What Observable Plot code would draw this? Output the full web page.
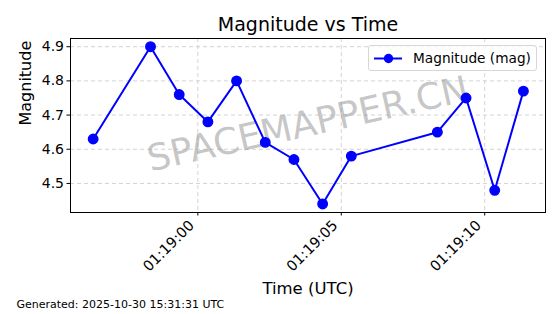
<!DOCTYPE html>
<html><head><meta charset="utf-8">
<script src="https://cdn.jsdelivr.net/npm/d3@7"></script>
<script src="https://cdn.jsdelivr.net/npm/@observablehq/plot@0.6"></script>
<style>
body{margin:0;background:#fff;font-family:"DejaVu Sans",sans-serif}
#wrap{position:relative;width:560px;height:314px;overflow:hidden}
#legend{position:absolute;left:368px;top:45px;width:169px;height:26px;border:1px solid #d6d6d6;border-radius:3px;background:rgba(255,255,255,0.8);box-sizing:border-box;font-size:13.7px;color:#000}
#legend svg{position:absolute;left:0;top:0}
#legend span{position:absolute;left:44px;top:4px;white-space:nowrap}
</style></head><body>
<div id="wrap"></div>
<script>
// Data
const times = [
  "2025-10-30T01:18:56.35Z", "2025-10-30T01:18:58.35Z", "2025-10-30T01:18:59.35Z",
  "2025-10-30T01:19:00.35Z", "2025-10-30T01:19:01.35Z", "2025-10-30T01:19:02.35Z",
  "2025-10-30T01:19:03.35Z", "2025-10-30T01:19:04.35Z", "2025-10-30T01:19:05.35Z",
  "2025-10-30T01:19:08.35Z", "2025-10-30T01:19:09.35Z", "2025-10-30T01:19:10.35Z",
  "2025-10-30T01:19:11.35Z"
];
const magnitudes = [4.63, 4.90, 4.76, 4.68, 4.80, 4.62, 4.57, 4.44, 4.58, 4.65, 4.75, 4.48, 4.77];
const xTickLabels = ["2025-10-30T01:19:00Z", "2025-10-30T01:19:05Z", "2025-10-30T01:19:10Z"];
const yTickValues = [4.5, 4.6, 4.7, 4.8, 4.9];
const xDomain = ["2025-10-30T01:18:55.56Z", "2025-10-30T01:19:12.12Z"];
const yDomain = [4.415, 4.924];
const titleText = "Magnitude vs Time";
const xLabel = "Time (UTC)";
const yLabel = "Magnitude";
const seriesName = "Magnitude (mag)";
const watermark = "SPACEMAPPER.CN";
const caption = "Generated: 2025-10-30 15:31:31 UTC";

const data = times.map((t, i) => ({time: new Date(t), mag: magnitudes[i]}));
const xTicks = xTickLabels.map(t => new Date(t));
const color = "#0000ff";

const chart = Plot.plot({
  width: 560,
  height: 314,
  marginLeft: 70,
  marginRight: 15,
  marginTop: 38,
  marginBottom: 102,
  style: {fontFamily: "DejaVu Sans, sans-serif", fontSize: "14px", color: "#000", background: "#fff"},
  x: {type: "utc", domain: xDomain.map(d => new Date(d))},
  y: {domain: yDomain},
  marks: [
    Plot.gridX(xTicks, {stroke: "#c8c8c8", strokeOpacity: 1, strokeDasharray: "4,3", strokeWidth: 0.8}),
    Plot.gridY(yTickValues, {stroke: "#c8c8c8", strokeOpacity: 1, strokeDasharray: "4,3", strokeWidth: 0.8}),
    Plot.text([watermark], {frameAnchor: "middle", rotate: -12.5, fontSize: 36.5, fill: "#808080", fillOpacity: 0.45, dy: -1}),
    Plot.line(data, {x: "time", y: "mag", stroke: color, strokeWidth: 2}),
    Plot.dot(data, {x: "time", y: "mag", r: 4.7, fill: color, stroke: color}),
    Plot.frame({stroke: "#000", strokeWidth: 1}),
    Plot.axisY(yTickValues, {tickSize: 3.5, tickPadding: 3, fontSize: 14, tickFormat: d3.format(".1f"), label: null}),
    Plot.axisX(xTicks, {tickSize: 3.5, tickFormat: () => "", label: null}),
    Plot.axisX(xTicks, {tickSize: 0, tickPadding: 6.5, fontSize: 14.5, tickRotate: -45, tickFormat: d3.utcFormat("%H:%M:%S"), label: null, dx: -6, dy: 4}),
    Plot.text([titleText], {frameAnchor: "top", lineAnchor: "bottom", dy: -7.5, fontSize: 19}),
    Plot.text([xLabel], {frameAnchor: "bottom", lineAnchor: "bottom", dy: 81, fontSize: 16.5}),
    Plot.text([yLabel], {frameAnchor: "left", lineAnchor: "bottom", rotate: -90, dx: -40, fontSize: 16}),
    Plot.text([caption], {frameAnchor: "bottom-left", textAnchor: "start", lineAnchor: "bottom", dx: -54, dy: 95, fontSize: 11})
  ]
});

const wrap = document.getElementById("wrap");
wrap.appendChild(chart);

const legend = document.createElement("div");
legend.id = "legend";
legend.innerHTML = `<svg width="44" height="24"><line x1="5" y1="12.5" x2="33" y2="12.5" stroke="${color}" stroke-width="2"/><circle cx="19.5" cy="12.5" r="4.7" fill="${color}"/></svg><span></span>`;
legend.querySelector("span").textContent = seriesName;
wrap.appendChild(legend);
</script>
</body></html>
